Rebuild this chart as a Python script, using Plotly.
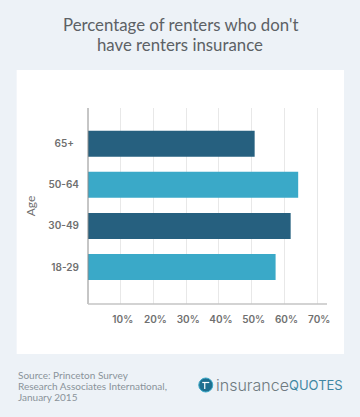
import plotly.graph_objects as go

ages = ["18-29", "30-49", "50-64", "65+"]
age_labels = ["18-29", "30-49", "50-64", "65+\u00a0\u00a0"]
values = [57.3, 61.9, 64.2, 50.9]
colors = ["#3aa9c8", "#26607f", "#3aa9c8", "#26607f"]
tick_values = [10, 20, 30, 40, 50, 60, 70]
tick_labels = ["10%", "20%", "30%", "40%", "50%", "60%", "70%"]
title_lines = ["Percentage of renters who don't", "have renters insurance"]
source_lines = ["Source: Princeton Survey", "Research Associates International,", "January 2015"]

W, H = 360, 417
L, R, T, B = 87.5, 327, 108, 304


def fx(x):
    return (x - L) / (R - L)


def fy(y):
    return (B - y) / (B - T)


def label(text, x, y, anchor, font):
    return dict(text=text, xref="paper", yref="paper", x=fx(x), y=fy(y),
                xanchor=anchor, yanchor="middle", showarrow=False,
                borderpad=0, font=font)


title_font = dict(family="Lato, sans-serif", size=16.8, color="#5c6165")
source_font = dict(family="Lato, sans-serif", size=10, color="#8a939a")

annotations = [label(t, 180, y, "center", title_font) for t, y in zip(title_lines, [25, 44])]
annotations += [label(t, 16.5, y, "left", source_font) for t, y in zip(source_lines, [375, 386, 397])]
annotations += [
    label("insurance", 215, 384.5, "left",
          dict(family="Inter, sans-serif", size=16, color="#6f7a80", weight=300)),
    label("QUOTES", 344.5, 385, "right",
          dict(family="Inter, sans-serif", size=13, color="#3f87a3", weight=400)),
]

fig = go.Figure(go.Bar(
    y=ages, x=values, orientation="h", marker=dict(color=colors, line=dict(width=0)),
    width=0.634, hoverinfo="skip",
))

fig.update_layout(
    width=W, height=H, autosize=False,
    margin=dict(l=L, r=W - R, t=T, b=H - B, pad=0),
    paper_bgcolor="#edf2f7", plot_bgcolor="rgba(0,0,0,0)",
    showlegend=False,
    xaxis=dict(
        range=[0, 73], tickvals=tick_values, ticktext=tick_labels, ticks="",
        showgrid=True, gridcolor="#e8e8e8", gridwidth=1, zeroline=False,
        showline=False, ticklabelstandoff=8, ticklabelshift=2,
        tickfont=dict(family="Inter, sans-serif", size=10, color="#6f6f6f", weight=600),
    ),
    yaxis=dict(
        type="category", categoryorder="array", categoryarray=ages,
        tickmode="array", tickvals=ages, ticktext=age_labels,
        range=[-0.9, 3.87], ticks="", showgrid=False, zeroline=False,
        showline=False, ticklabelstandoff=8,
        tickfont=dict(family="Inter, sans-serif", size=10, color="#6f6f6f", weight=600),
        title=dict(text="Age", font=dict(family="Lato, sans-serif", size=12, color="#6f6f6f"), standoff=10),
    ),
    shapes=[
        dict(type="rect", xref="paper", yref="paper", layer="below",
             x0=fx(16), x1=fx(344), y0=fy(354), y1=fy(70),
             fillcolor="#ffffff", line=dict(width=0)),
        dict(type="line", xref="paper", yref="paper", x0=0, x1=0, y0=0, y1=1,
             line=dict(color="#8c8c8c", width=1)),
        dict(type="line", xref="paper", yref="paper", x0=0, x1=1, y0=0, y1=0,
             line=dict(color="#c4c4c4", width=1.5)),
        dict(type="circle", xref="paper", yref="paper",
             x0=fx(198.5), x1=fx(212.5), y0=fy(392), y1=fy(378),
             fillcolor="#1f6f8f", line=dict(color="#3aa9c8", width=1)),
        dict(type="line", xref="paper", yref="paper",
             x0=fx(202), x1=fx(209), y0=fy(382.5), y1=fy(382.5),
             line=dict(color="#ffffff", width=1.2)),
        dict(type="line", xref="paper", yref="paper",
             x0=fx(204.5), x1=fx(204.5), y0=fy(382.5), y1=fy(389),
             line=dict(color="#ffffff", width=1.2)),
    ],
    annotations=annotations,
)
fig.write_html("out.html", config={"displayModeBar": False},
               post_script="document.body.style.margin='0';document.body.style.overflow='hidden';")
